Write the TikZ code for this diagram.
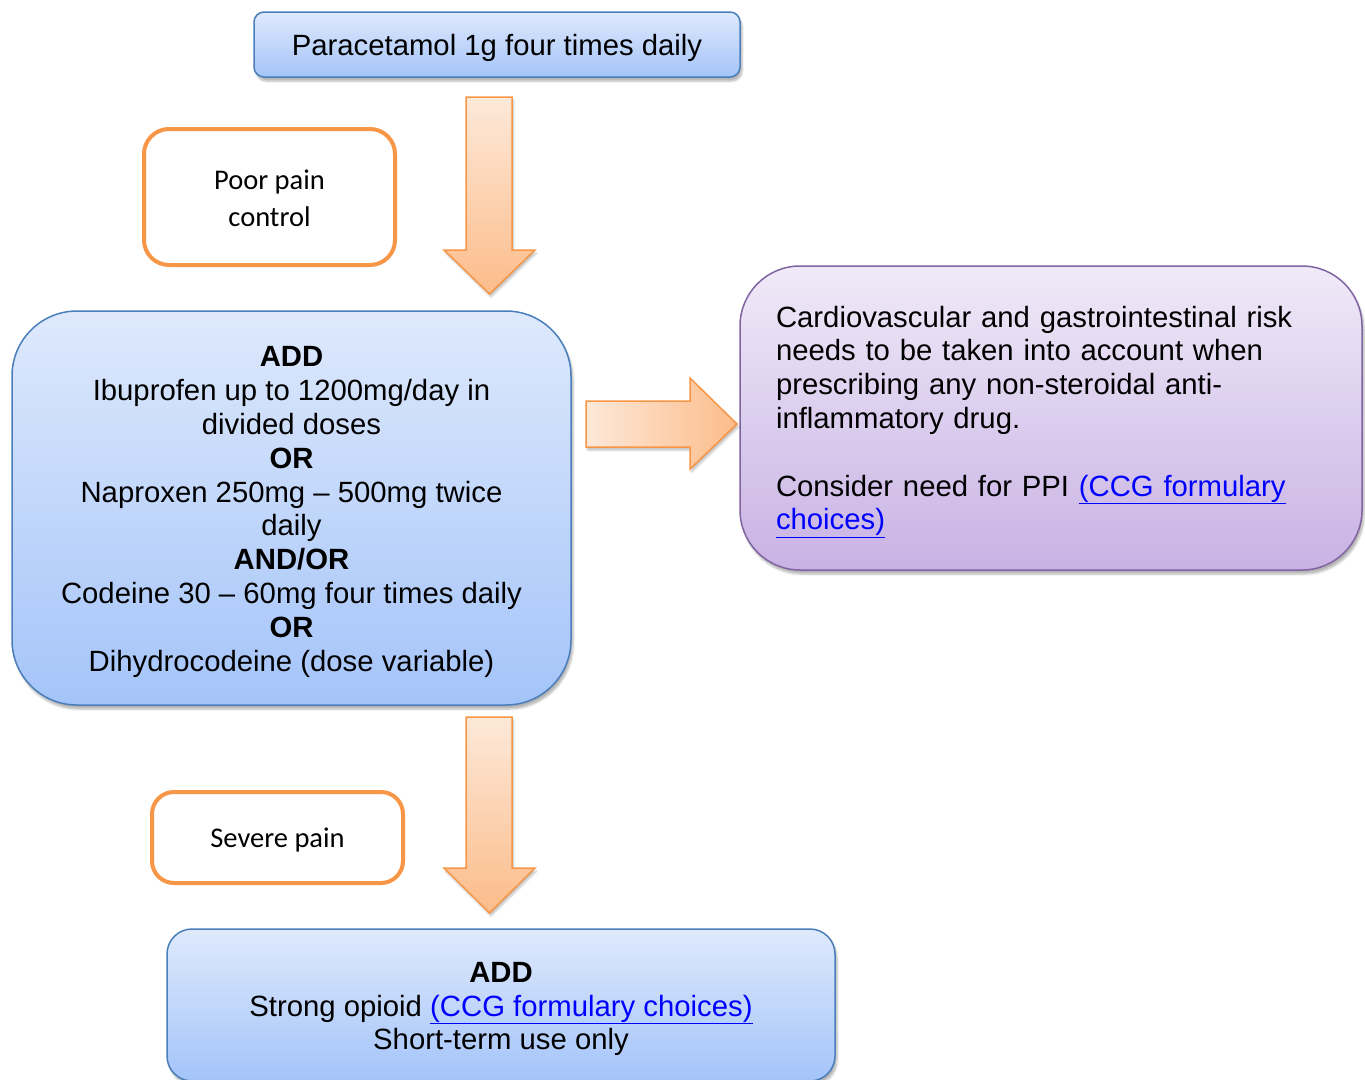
\documentclass[tikz,border=0pt]{standalone}
\usepackage{fontspec}
\setmainfont{Liberation Sans}
\newfontfamily\calibfont{Carlito}
\usetikzlibrary{shadows.blur}
\definecolor{boxblue}{RGB}{74,126,187}
\definecolor{bluetop}{RGB}{222,233,252}
\definecolor{bluebot}{RGB}{164,196,249}
\definecolor{orangeline}{RGB}{247,150,70}
\definecolor{arrlight}{RGB}{253,233,217}
\definecolor{arrdark}{RGB}{252,188,138}
\definecolor{purpline}{RGB}{128,100,162}
\definecolor{purptop}{RGB}{240,234,248}
\definecolor{purpbot}{RGB}{200,178,228}
\definecolor{linkblue}{RGB}{0,0,255}
\newcommand\mainsize{\fontsize{29.3pt}{33.8pt}\selectfont}
\newcommand\lnk[1]{\textcolor{linkblue}{\underline{#1}}}
\begin{document}
\begin{tikzpicture}[x=1pt,y=-1pt,
  softshadow/.style={blur shadow={shadow xshift=2pt,shadow yshift=-4pt,shadow blur steps=6,shadow opacity=30}},
  bluebox/.style={draw=boxblue,line width=1.5pt,top color=bluetop,bottom color=bluebot,softshadow,inner sep=0pt},
  purpbox/.style={draw=purpline,line width=1.5pt,top color=purptop,bottom color=purpbot,softshadow,inner sep=0pt},
  ctlbox/.style={draw=orangeline,line width=4pt,fill=white,inner sep=0pt},
  boxtext/.style={inner sep=0pt,align=center,font=\mainsize},
  lefttext/.style={inner sep=0pt,align=left,font=\mainsize,text width=550pt},
  ctltext/.style={inner sep=0pt,align=center,font=\calibfont\fontsize{28.5pt}{36.5pt}\selectfont},
  blockarr/.style={draw=orangeline,line width=1.5pt,line join=miter,blur shadow={shadow xshift=1.5pt,shadow yshift=-3pt,shadow blur steps=5,shadow opacity=25}},
  downarr/.style={blockarr,top color=arrlight,bottom color=arrdark},
  rightarr/.style={blockarr,left color=arrlight,right color=arrdark}
]
\useasboundingbox (0,0) rectangle (1365,1079);

% boxes
\node[bluebox,rounded corners=10pt,minimum width=486pt,minimum height=65pt] (para) at (497,44.5) {};
\node[boxtext] (paratext) at ([yshift=-3pt]para.center) {Paracetamol 1g four times daily};

\node[ctlbox,rounded corners=25pt,minimum width=251pt,minimum height=136pt] (poor) at (269.5,197) {};
\node[ctltext] (poortext) at ([yshift=-1.5pt]poor.center) {Poor pain\\control};

\node[bluebox,rounded corners=65pt,minimum width=559pt,minimum height=394pt] (add1) at (291.5,508) {};
\node[boxtext] (add1text) at ([yshift=-4pt]add1.center)
  {\textbf{ADD}\\
   Ibuprofen up to 1200mg/day in\\
   divided doses\\
   \textbf{OR}\\
   Naproxen 250mg – 500mg twice\\
   daily\\
   \textbf{AND/OR}\\
   Codeine 30 – 60mg four times daily\\
   \textbf{OR}\\
   Dihydrocodeine (dose variable)};

\node[purpbox,rounded corners=60pt,minimum width=622pt,minimum height=304pt] (risk) at (1051,418) {};
\node[lefttext] (risktext) at ([yshift=-4pt]risk.center)
  {Cardiovascular and gastrointestinal risk\\
   needs to be taken into account when\\
   prescribing any non-steroidal anti-\\
   inflammatory drug.\\[33.8pt]
   Consider need for PPI \lnk{(CCG formulary}\\
   \lnk{choices)}};

\node[ctlbox,rounded corners=22pt,minimum width=251pt,minimum height=91pt] (severe) at (277.5,837.5) {};
\node[ctltext] (severetext) at ([yshift=-2pt]severe.center) {Severe pain};

\node[bluebox,rounded corners=25pt,minimum width=668pt,minimum height=152pt] (add2) at (501,1005) {};
\node[boxtext] (add2text) at ([yshift=-4pt]add2.center)
  {\textbf{ADD}\\
   Strong opioid \lnk{(CCG formulary choices)}\\
   Short-term use only};

% block arrows
\path[downarr] (466,97) -- (512,97) -- (512,250) -- (535,250) -- (489.5,294) -- (444,250) -- (466,250) -- cycle;
\path[rightarr] (586,401) -- (690,401) -- (690,378) -- (737,424) -- (690,469) -- (690,447) -- (586,447) -- cycle;
\path[downarr] (466,717) -- (512,717) -- (512,868) -- (535,868) -- (489.5,913) -- (444,868) -- (466,868) -- cycle;
\end{tikzpicture}
\end{document}
